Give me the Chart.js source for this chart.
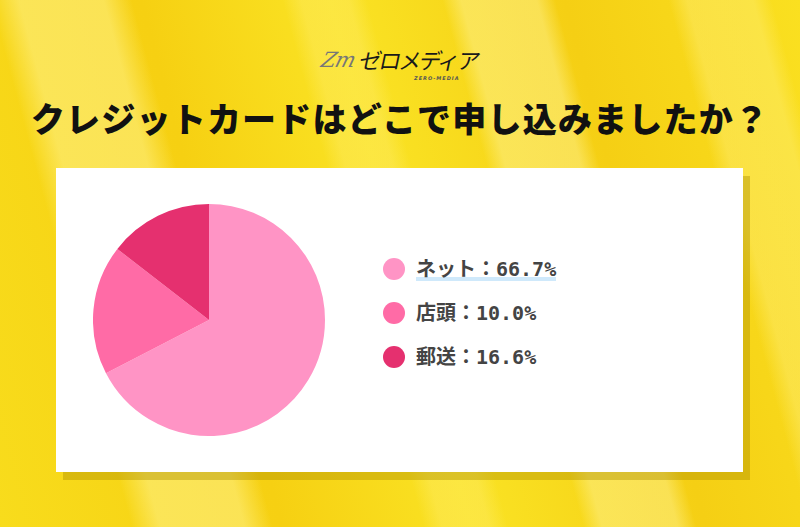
<!DOCTYPE html>
<html><head><meta charset="utf-8">
<script src="https://cdn.jsdelivr.net/npm/chart.js@4"></script>
<style>
html,body{margin:0;padding:0;}
#wrap{position:relative;width:800px;height:527px;overflow:hidden;
 background:
  linear-gradient(75deg, rgba(255,255,255,0) 0%, rgba(255,240,150,0.0) 14%, rgba(255,242,140,0.55) 17%, rgba(255,242,140,0.55) 26%, rgba(255,255,255,0) 29%, rgba(255,255,255,0) 45%, rgba(255,238,120,0.35) 47%, rgba(255,238,120,0.35) 52%, rgba(255,255,255,0) 54%, rgba(255,255,255,0) 62%, rgba(255,245,160,0.45) 64%, rgba(255,245,160,0.45) 72%, rgba(255,255,255,0) 74%, rgba(255,255,255,0) 86%, rgba(255,240,130,0.4) 88%, rgba(255,240,130,0.4) 95%, rgba(255,255,255,0) 97%),
  linear-gradient(75deg, #f8dc1c 0%, #f6d012 30%, #fae324 50%, #f5cf14 75%, #fae020 100%);
 font-family:"Noto Sans CJK JP",sans-serif;}
#logo{position:absolute;left:318px;top:40px;width:180px;height:45px;white-space:nowrap;}
#zm{position:absolute;left:4px;top:8px;font:italic 300 21px "DejaVu Serif",serif;color:#777;transform:skewX(-15deg);letter-spacing:-1px;}
#lg{position:absolute;left:42px;top:3px;font:400 22px "Noto Sans CJK JP";color:#1a1a1a;transform:skewX(-12deg);letter-spacing:-2px;white-space:nowrap;}
#zmsub{position:absolute;left:96px;top:35px;font:italic 700 5px "DejaVu Sans";color:#555;letter-spacing:1px;white-space:nowrap;}
#title{position:absolute;left:0;width:800px;top:93px;text-align:center;font:900 34px "Noto Sans CJK JP";color:#111;letter-spacing:1.2px;white-space:nowrap;}
#shadow{position:absolute;left:63px;top:176px;width:687px;height:304px;background:rgba(170,140,0,0.4);}
#card{position:absolute;left:56px;top:168px;width:687px;height:304px;background:#fff;}
#chartbox{position:absolute;left:93px;top:204px;width:232px;height:232px;}
#legend{position:absolute;left:383px;top:255px;}
.item{position:relative;height:44px;display:flex;align-items:flex-start;}
.dot{width:22px;height:22px;border-radius:50%;margin-right:11px;margin-top:3px;}
.txt{font:700 20px "DejaVu Sans Mono","Noto Sans CJK JP",monospace;color:#444;line-height:28px;position:relative;}
.hl{background:linear-gradient(to bottom, transparent 78%, #cfe9fb 78%, #cfe9fb 92%, transparent 92%);}
</style></head>
<body><div id="wrap">
<div id="logo"><div id="zm">Zm</div><div id="lg">ゼロメディア</div><div id="zmsub">ZERO-MEDIA</div></div>
<div id="title">クレジットカードはどこで申し込みましたか？</div>
<div id="shadow"></div><div id="card"></div>
<div id="chartbox"><canvas id="c" width="232" height="232"></canvas></div>
<div id="legend"></div>
</div>
<script>
const categories = ["ネット", "店頭", "郵送"];
const labelPercents = ["66.7%", "10.0%", "16.6%"];
const sliceValues = [67.4, 18.1, 14.5];
const colors = ["#ff94c5", "#ff6ba6", "#e5306f"];

new Chart(document.getElementById('c'), {
  type: 'pie',
  data: { labels: categories, datasets: [{ data: sliceValues, backgroundColor: colors, borderWidth: 0 }] },
  options: {
    responsive: false, animation: false,
    layout: { padding: 0 },
    plugins: { legend: { display: false }, tooltip: { enabled: false } }
  }
});

const lg = document.getElementById('legend');
categories.forEach((c, i) => {
  const it = document.createElement('div'); it.className = 'item';
  const d = document.createElement('div'); d.className = 'dot'; d.style.background = colors[i];
  const t = document.createElement('div'); t.className = 'txt' + (i === 0 ? ' hl' : '');
  t.textContent = c + '：' + labelPercents[i];
  it.appendChild(d); it.appendChild(t); lg.appendChild(it);
});
</script>
</body></html>
